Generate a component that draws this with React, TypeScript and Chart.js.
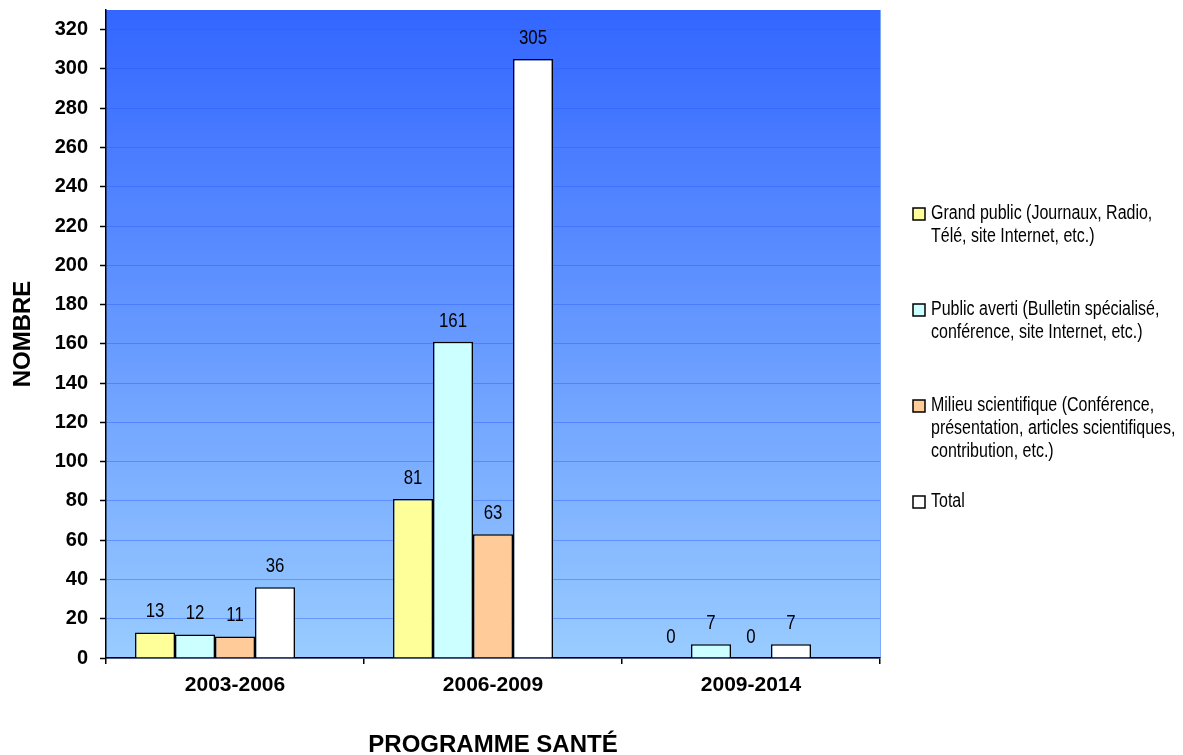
import React, { useEffect, useRef } from 'react';
import { Chart, registerables } from 'chart.js';

Chart.register(...registerables);

const categories = ['2003-2006', '2006-2009', '2009-2014'];
const grandPublic = [13, 81, 0];
const publicAverti = [12, 161, 7];
const milieuScientifique = [11, 63, 0];
const total = [36, 305, 7];
const spacerSeries = [null, null, null];
const seriesLabels = [
  ['Grand public (Journaux, Radio,', 'Télé, site Internet, etc.)'],
  ['Public averti (Bulletin spécialisé,', 'conférence, site Internet, etc.)'],
  ['Milieu scientifique (Conférence,', 'présentation, articles scientifiques,', 'contribution, etc.)'],
  ['Total'],
];
const seriesColors = ['#FFFF99', '#CCFFFF', '#FFCC99', '#FFFFFF'];
const yTitle = 'NOMBRE';
const xTitle = 'PROGRAMME SANTÉ';
const yMax = 330;
const yStep = 20;

const SANS = '"Liberation Sans", Arial, sans-serif';
const NARROW_SCALE = 0.82;

function narrowText(ctx: CanvasRenderingContext2D, text: string, x: number, y: number, align: CanvasTextAlign) {
  ctx.save();
  ctx.translate(x, y);
  ctx.scale(NARROW_SCALE, 1);
  ctx.textAlign = align;
  ctx.fillText(text, 0, 0);
  ctx.restore();
}

const backgroundPlugin = {
  id: 'plotBackground',
  beforeDraw(chart: any) {
    const { ctx, chartArea } = chart;
    if (!chartArea) return;
    const g = ctx.createLinearGradient(0, chartArea.top, 0, chartArea.bottom);
    g.addColorStop(0, '#3366FF');
    g.addColorStop(1, '#99CCFF');
    ctx.save();
    ctx.fillStyle = g;
    ctx.fillRect(chartArea.left, chartArea.top, chartArea.right - chartArea.left, chartArea.bottom - chartArea.top);
    ctx.strokeStyle = '#7FA8FF';
    ctx.lineWidth = 1;
    ctx.beginPath();
    ctx.moveTo(chartArea.right + 0.5, chartArea.top);
    ctx.lineTo(chartArea.right + 0.5, chartArea.bottom);
    ctx.stroke();
    ctx.restore();
  },
};

const valueLabelPlugin = {
  id: 'valueLabels',
  afterDatasetsDraw(chart: any) {
    const { ctx } = chart;
    ctx.save();
    ctx.font = `20.5px ${SANS}`;
    ctx.fillStyle = '#000';
    ctx.textBaseline = 'middle';
    chart.data.datasets.forEach((ds: any, i: number) => {
      if (ds.isSpacer) return;
      const meta = chart.getDatasetMeta(i);
      meta.data.forEach((el: any, j: number) => {
        const v = ds.data[j];
        if (v === null || v === undefined) return;
        narrowText(ctx, String(v), el.x, el.y - 21, 'center');
      });
    });
    ctx.restore();
  },
};

const legendPlugin = {
  id: 'customLegend',
  afterDraw(chart: any) {
    const { ctx } = chart;
    ctx.save();
    ctx.font = `19.5px ${SANS}`;
    ctx.textBaseline = 'middle';
    const boxX = 913;
    const textX = 931;
    const firstY = 214;
    const itemGap = 96;
    const lineH = 23;
    seriesLabels.forEach((lines, i) => {
      const y = firstY + i * itemGap;
      ctx.fillStyle = seriesColors[i];
      ctx.fillRect(boxX, y - 6, 12, 12);
      ctx.strokeStyle = '#000';
      ctx.lineWidth = 1.5;
      ctx.strokeRect(boxX, y - 6, 12, 12);
      ctx.fillStyle = '#000';
      lines.forEach((line, k) => {
        narrowText(ctx, line, textX, y + k * lineH, 'left');
      });
    });
    ctx.restore();
  },
};

export default function App() {
  const ref = useRef<HTMLCanvasElement | null>(null);
  useEffect(() => {
    if (!ref.current) return;
    Chart.defaults.font.family = SANS;
    const seriesData = [grandPublic, publicAverti, milieuScientifique, total];
    const datasets: any[] = seriesData.map((d, i) => ({
      label: seriesLabels[i].join(' '),
      data: d,
      backgroundColor: seriesColors[i],
      borderColor: '#000',
      borderWidth: 1.5,
      categoryPercentage: 0.775,
      barPercentage: 1,
    }));
    datasets.push({
      label: '',
      data: spacerSeries,
      isSpacer: true,
      backgroundColor: 'rgba(0,0,0,0)',
      borderWidth: 0,
      categoryPercentage: 0.775,
      barPercentage: 1,
    });
    const chart = new Chart(ref.current, {
      type: 'bar',
      data: { labels: categories, datasets },
      options: {
        animation: false,
        responsive: false,
        layout: { padding: { top: 10, right: 303, bottom: 0, left: 0 } },
        plugins: { legend: { display: false }, tooltip: { enabled: false } },
        scales: {
          x: {
            offset: true,
            afterFit(scale: any) {
              scale.height = 97;
              scale.paddingLeft = 0;
              scale.paddingRight = 0;
            },
            border: { color: '#000', width: 1.5 },
            grid: { drawOnChartArea: false, offset: true, tickLength: 6, color: '#000', lineWidth: 1.5 },
            ticks: { color: '#000', font: { size: 21, weight: 'bold' }, padding: 9 },
            title: {
              display: true,
              text: xTitle,
              color: '#000',
              font: { size: 24, weight: 'bold', lineHeight: 0.8 },
              padding: { top: 0, bottom: 0 },
            },
          },
          y: {
            min: 0,
            max: yMax,
            afterFit(scale: any) {
              scale.width = 106;
              scale.paddingTop = 0;
              scale.paddingBottom = 0;
            },
            border: { color: '#000', width: 1.5 },
            grid: {
              color: 'rgba(40,90,255,0.42)',
              lineWidth: 1,
              borderDash: [8, 5],
              tickLength: 6,
              tickColor: '#000',
              tickBorderDash: [],
              tickWidth: 1.5,
            },
            ticks: {
              stepSize: yStep,
              includeBounds: false,
              color: '#000',
              font: { size: 20, weight: 'bold' },
              padding: 12,
            },
            title: {
              display: true,
              text: yTitle,
              color: '#000',
              font: { size: 24, weight: 'bold' },
              padding: { top: 9, bottom: 0 },
            },
          },
        },
      },
      plugins: [backgroundPlugin, valueLabelPlugin, legendPlugin],
    } as any);
    return () => chart.destroy();
  }, []);
  return (
    <div style={{ position: 'fixed', left: 0, top: 0, width: 1183, height: 755, background: '#fff' }}>
      <canvas ref={ref} width={1183} height={755} style={{ display: 'block' }} />
    </div>
  );
}
